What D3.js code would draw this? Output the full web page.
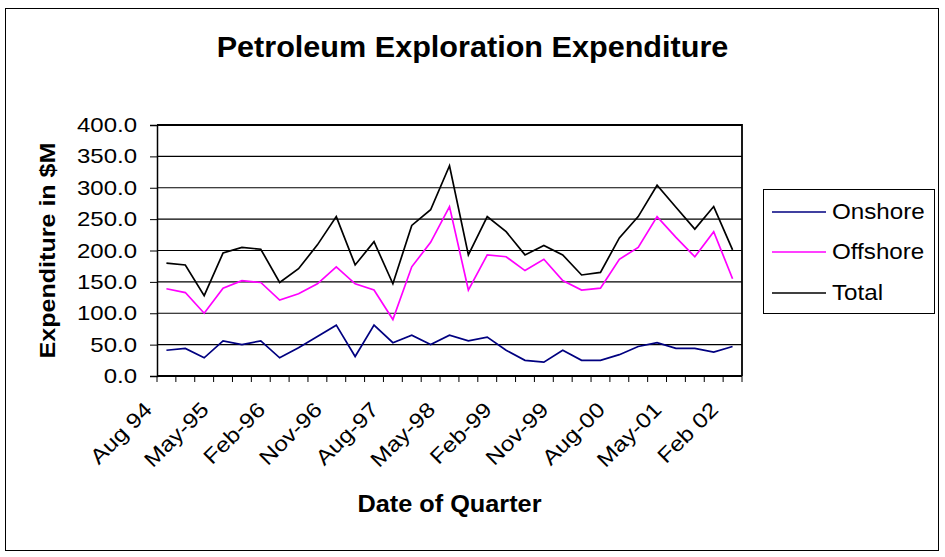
<!DOCTYPE html>
<html>
<head>
<meta charset="utf-8">
<script src="https://cdn.jsdelivr.net/npm/d3@7"></script>
<style>
  body { margin: 0; background: #fff; }
  text { font-family: "Liberation Sans", Arial, sans-serif; fill: #000; }
</style>
</head>
<body>
<svg id="chart" width="945" height="557"></svg>
<script>
// quarterly categories, Aug 94 .. Feb 02
const quarters = ["Aug 94", "Nov-94", "Feb-95", "May-95", "Aug-95", "Nov-95", "Feb-96", "May-96",
  "Aug-96", "Nov-96", "Feb-97", "May-97", "Aug-97", "Nov-97", "Feb-98", "May-98", "Aug-98",
  "Nov-98", "Feb-99", "May-99", "Aug-99", "Nov-99", "Feb-00", "May-00", "Aug-00", "Nov-00",
  "Feb-01", "May-01", "Aug-01", "Nov-01", "Feb 02"];
const tickLabels = ["Aug 94", "May-95", "Feb-96", "Nov-96", "Aug-97", "May-98", "Feb-99",
  "Nov-99", "Aug-00", "May-01", "Feb 02"];
const yTicks = [0, 50, 100, 150, 200, 250, 300, 350, 400];

const onshore = [41, 44, 29, 56, 50, 56, 29, 45, 63, 81, 31, 81, 53, 65, 50, 65, 56, 62, 41, 25,
  22, 41, 25, 25, 34, 47, 53, 44, 44, 38, 47];
const offshore = [139, 133, 100, 140, 152, 149, 121, 131, 147, 174, 147, 137, 90, 174, 213, 270,
  137, 193, 190, 168, 186, 152, 137, 140, 186, 205, 254, 221, 190, 230, 155];
const total = [180, 177, 128, 196, 205, 202, 149, 171, 209, 254, 177, 214, 147, 240, 265, 335,
  193, 254, 230, 193, 208, 193, 161, 165, 220, 254, 304, 269, 234, 270, 201];

const seriesNames = ["Onshore", "Offshore", "Total"];
const seriesColors = ["#000080", "#ff00ff", "#000000"];
const seriesValues = [onshore, offshore, total];

const svg = d3.select("#chart");
const plot = {left: 157, right: 742, top: 125, bottom: 376};

// outer chart border
svg.append("rect")
    .attr("x", 5.5).attr("y", 8.5)
    .attr("width", 933).attr("height", 542)
    .attr("fill", "#fff").attr("stroke", "#000").attr("stroke-width", 1);

const x = d3.scaleBand()
    .domain(quarters)
    .range([plot.left, plot.right])
    .padding(0);
const y = d3.scaleLinear()
    .domain([0, 400])
    .range([plot.bottom, plot.top]);
const cx = q => x(q) + x.bandwidth() / 2;

// gridlines
svg.append("g").selectAll("line")
    .data(yTicks.slice(1))
    .join("line")
    .attr("x1", plot.left).attr("x2", plot.right)
    .attr("y1", d => y(d)).attr("y2", d => y(d))
    .attr("stroke", "#000").attr("stroke-width", 1.2);

// plot border (top/right)
svg.append("path")
    .attr("d", `M${plot.left},${plot.top}H${plot.right}V${plot.bottom}`)
    .attr("fill", "none").attr("stroke", "#000").attr("stroke-width", 1.8);

// y axis
const yAxis = svg.append("g")
    .attr("transform", `translate(${plot.left},0)`)
    .call(d3.axisLeft(y).tickValues(yTicks).tickSize(7).tickFormat(""));
yAxis.select(".domain").attr("stroke-width", 1.5);
yAxis.selectAll(".tick line").attr("stroke-width", 1);

svg.append("g").selectAll("text")
    .data(yTicks)
    .join("text")
    .attr("transform", d => `translate(137,${y(d) + 7}) scale(1.2,1)`)
    .attr("text-anchor", "end")
    .attr("font-size", 20)
    .text(d => d.toFixed(1));

// x axis
const xAxisG = svg.append("g");
xAxisG.append("line")
    .attr("x1", plot.left).attr("x2", plot.right)
    .attr("y1", plot.bottom).attr("y2", plot.bottom)
    .attr("stroke", "#000").attr("stroke-width", 1.8);
const boundaries = quarters.map(q => x(q)).concat([plot.right]);
xAxisG.selectAll("line.tk")
    .data(boundaries)
    .join("line")
    .attr("class", "tk")
    .attr("x1", d => d).attr("x2", d => d)
    .attr("y1", plot.bottom).attr("y2", plot.bottom + 6)
    .attr("stroke", "#000").attr("stroke-width", 1);

svg.append("g").selectAll("text")
    .data(tickLabels)
    .join("text")
    .attr("transform", d => `translate(${cx(d) - 13},${plot.bottom + 35}) rotate(-45) scale(1.16,1)`)
    .attr("text-anchor", "end")
    .attr("font-size", 21)
    .text(d => d);

// series lines
const line = d3.line()
    .x((d, i) => cx(quarters[i]))
    .y(d => y(d));

svg.append("g").selectAll("path")
    .data(seriesValues)
    .join("path")
    .attr("d", d => line(d))
    .attr("fill", "none")
    .attr("stroke", (d, i) => seriesColors[i])
    .attr("stroke-width", 1.7)
    .attr("stroke-linejoin", "miter");

// titles
svg.append("text")
    .attr("transform", `translate(472.5,57) scale(1.02,1)`)
    .attr("text-anchor", "middle")
    .attr("font-size", 30).attr("font-weight", "bold")
    .text("Petroleum Exploration Expenditure");

svg.append("text")
    .attr("transform", `translate(449.5,512) scale(1.1,1)`)
    .attr("text-anchor", "middle")
    .attr("font-size", 23).attr("font-weight", "bold")
    .text("Date of Quarter");

svg.append("text")
    .attr("transform", `translate(55,${(plot.top + plot.bottom) / 2}) rotate(-90) scale(1.14,1)`)
    .attr("text-anchor", "middle")
    .attr("font-size", 22).attr("font-weight", "bold")
    .text("Expenditure in $M");

// legend
const legend = svg.append("g");
legend.append("rect")
    .attr("x", 763.5).attr("y", 189.5)
    .attr("width", 171).attr("height", 124)
    .attr("fill", "#fff").attr("stroke", "#000").attr("stroke-width", 1);
const legendY = [212, 252, 293];
const items = legend.selectAll("g.item")
    .data(seriesNames)
    .join("g")
    .attr("class", "item");
items.append("line")
    .attr("x1", 772).attr("x2", 826)
    .attr("y1", (d, i) => legendY[i]).attr("y2", (d, i) => legendY[i])
    .attr("stroke", (d, i) => seriesColors[i])
    .attr("stroke-width", 1.7);
items.append("text")
    .attr("transform", (d, i) => `translate(832,${legendY[i] + 7}) scale(1.1,1)`)
    .attr("font-size", 22)
    .text(d => d);
</script>
</body>
</html>
